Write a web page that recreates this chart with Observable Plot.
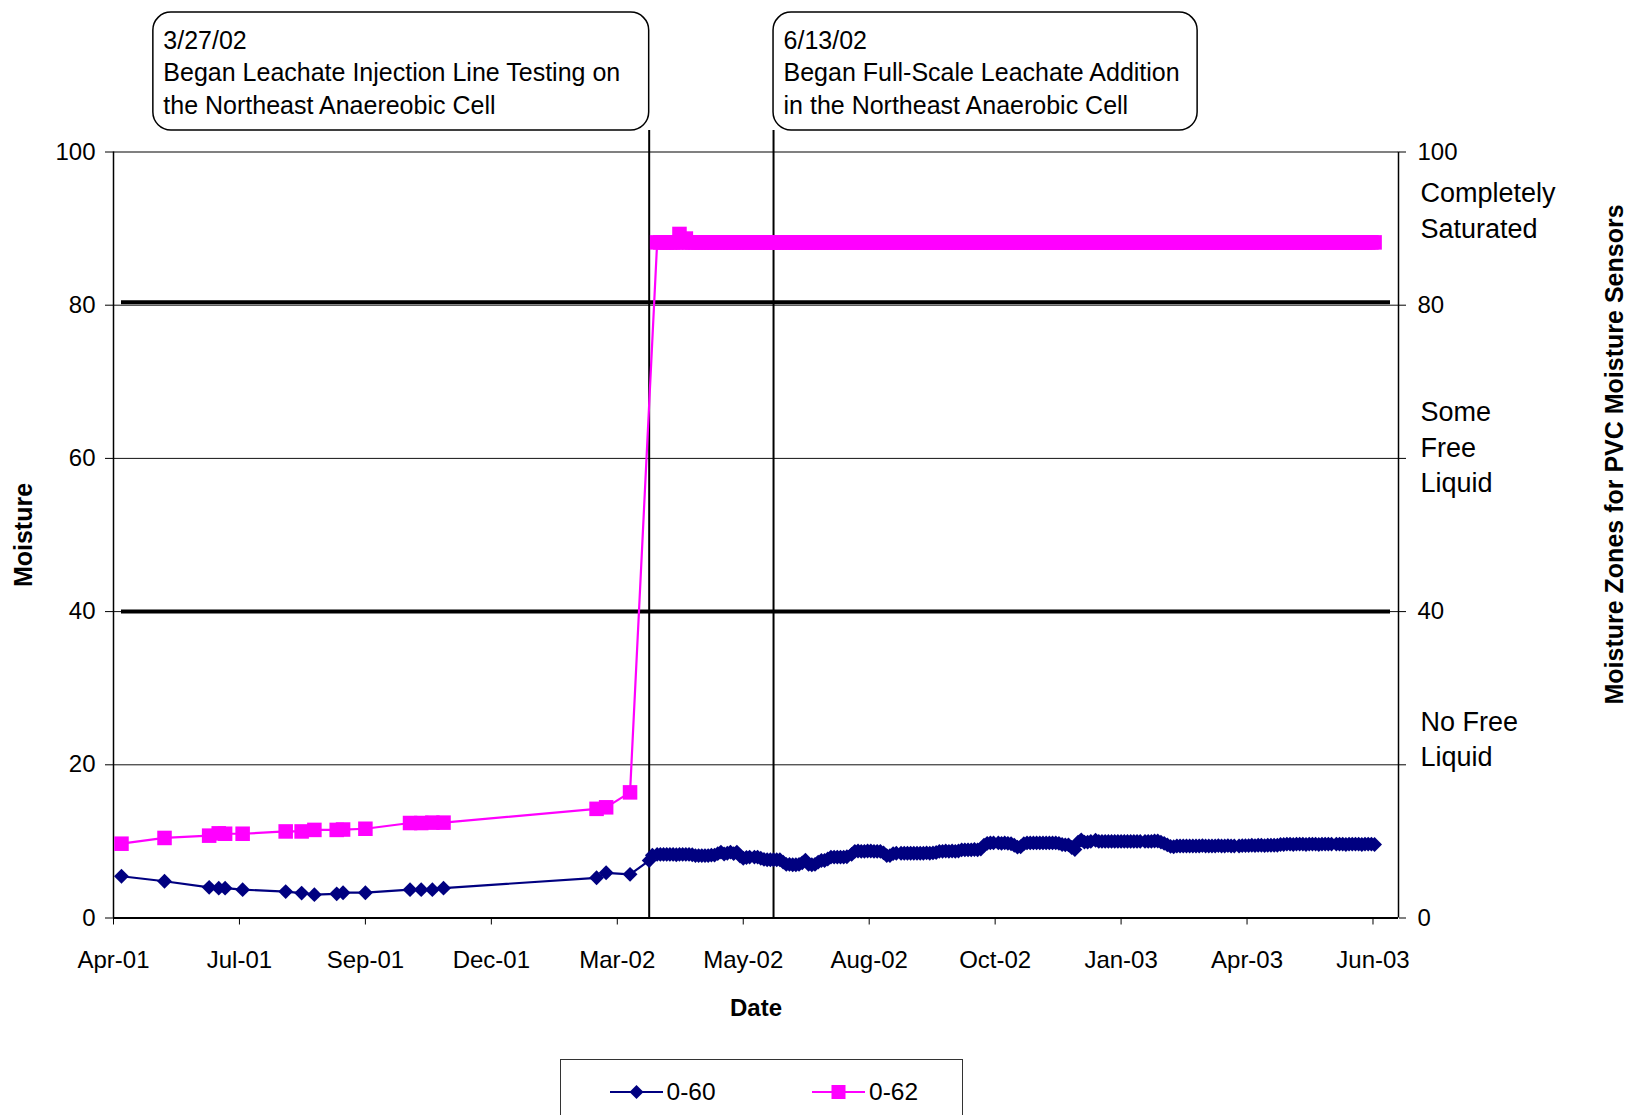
<!DOCTYPE html>
<html><head><meta charset="utf-8">
<script src="https://cdn.jsdelivr.net/npm/d3@7"></script>
<script src="https://cdn.jsdelivr.net/npm/@observablehq/plot@0.6"></script>
<style>
body{margin:0;background:#fff;font-family:"Liberation Sans",Arial,sans-serif;}
#wrap{position:relative;width:1631px;height:1115px;overflow:hidden;background:#fff;}
#chart svg{display:block;}
#legend{position:absolute;left:560px;top:1059px;width:403px;height:80px;border:1.3px solid #333;box-sizing:border-box;background:#fff;}
.li{position:absolute;top:0;height:64px;display:flex;align-items:center;font-size:24.5px;color:#000;}
</style></head><body><div id="wrap"><div id="chart"></div><div id="legend"></div></div>
<script>
// ---------- data ----------
const seriesNames = ["0-60", "0-62"];
const seriesColors = ["#000080", "#FF00FF"];

// early, sparse readings (2001 – Mar 2002)
const earlyDates = ["2001-04-30","2001-05-27","2001-06-24","2001-06-30","2001-07-04","2001-07-15",
  "2001-08-11","2001-08-21","2001-08-29","2001-09-12","2001-09-16","2001-09-30",
  "2001-10-28","2001-11-04","2001-11-11","2001-11-18","2002-02-22","2002-02-28","2002-03-15"];
const early060 = [5.45,4.8,4.0,3.9,3.9,3.7,3.45,3.25,3.05,3.15,3.3,3.3,3.7,3.7,3.7,3.9,5.25,5.9,5.7];
const early062 = [9.7,10.45,10.75,11.05,11.0,11.0,11.3,11.3,11.5,11.5,11.55,11.65,12.4,12.4,12.45,12.45,14.25,14.45,16.4];

// dense readings (Mar 2002 – Jun 2003)
const denseDates = [
  "2002-03-27","2002-03-29",
  "2002-04-01","2002-04-03","2002-04-05","2002-04-07","2002-04-09","2002-04-11","2002-04-13","2002-04-15","2002-04-17","2002-04-19","2002-04-21","2002-04-23","2002-04-25","2002-04-27","2002-04-29",
  "2002-05-01","2002-05-03","2002-05-05","2002-05-07","2002-05-09","2002-05-11","2002-05-13","2002-05-15","2002-05-17","2002-05-19","2002-05-21","2002-05-23","2002-05-25","2002-05-27","2002-05-29",
  "2002-06-01","2002-06-03","2002-06-05","2002-06-07","2002-06-09","2002-06-11","2002-06-13","2002-06-15","2002-06-17","2002-06-19","2002-06-21","2002-06-23","2002-06-25","2002-06-27","2002-06-29",
  "2002-07-01","2002-07-03","2002-07-05","2002-07-07","2002-07-09","2002-07-11","2002-07-13","2002-07-15","2002-07-17","2002-07-19","2002-07-21","2002-07-23","2002-07-25","2002-07-27","2002-07-29",
  "2002-08-01","2002-08-03","2002-08-05","2002-08-07","2002-08-09","2002-08-11","2002-08-13","2002-08-15","2002-08-17","2002-08-19","2002-08-21","2002-08-23","2002-08-25","2002-08-27","2002-08-29",
  "2002-09-01","2002-09-03","2002-09-05","2002-09-07","2002-09-09","2002-09-11","2002-09-13","2002-09-15","2002-09-17","2002-09-19","2002-09-21","2002-09-23","2002-09-25","2002-09-27","2002-09-29",
  "2002-10-01","2002-10-03","2002-10-05","2002-10-07","2002-10-09","2002-10-11","2002-10-13","2002-10-15","2002-10-17","2002-10-19","2002-10-21","2002-10-23","2002-10-25","2002-10-27","2002-10-29",
  "2002-11-01","2002-11-03","2002-11-05","2002-11-07","2002-11-09","2002-11-11","2002-11-13","2002-11-15","2002-11-17","2002-11-19","2002-11-21","2002-11-23","2002-11-25","2002-11-27","2002-11-29",
  "2002-12-01","2002-12-03","2002-12-05","2002-12-07","2002-12-09","2002-12-11","2002-12-13","2002-12-15","2002-12-17","2002-12-19","2002-12-21","2002-12-23","2002-12-25","2002-12-27","2002-12-29",
  "2003-01-01","2003-01-03","2003-01-05","2003-01-07","2003-01-09","2003-01-11","2003-01-13","2003-01-15","2003-01-17","2003-01-19","2003-01-21","2003-01-23","2003-01-25","2003-01-27","2003-01-29",
  "2003-02-01","2003-02-03","2003-02-05","2003-02-07","2003-02-09","2003-02-11","2003-02-13","2003-02-15","2003-02-17","2003-02-19","2003-02-21","2003-02-23","2003-02-25","2003-02-27",
  "2003-03-01","2003-03-03","2003-03-05","2003-03-07","2003-03-09","2003-03-11","2003-03-13","2003-03-15","2003-03-17","2003-03-19","2003-03-21","2003-03-23","2003-03-25","2003-03-27","2003-03-29",
  "2003-04-01","2003-04-03","2003-04-05","2003-04-07","2003-04-09","2003-04-11","2003-04-13","2003-04-15","2003-04-17","2003-04-19","2003-04-21","2003-04-23","2003-04-25","2003-04-27","2003-04-29",
  "2003-05-01","2003-05-03","2003-05-05","2003-05-07","2003-05-09","2003-05-11","2003-05-13","2003-05-15","2003-05-17","2003-05-19","2003-05-21","2003-05-23","2003-05-25","2003-05-27","2003-05-29",
  "2003-06-01","2003-06-03","2003-06-05","2003-06-07","2003-06-09","2003-06-11","2003-06-13","2003-06-15","2003-06-17","2003-06-19","2003-06-21","2003-06-23","2003-06-25"];
const dense060 = [
  7.5,8.2,
  8.3,8.3,8.3,8.3,8.3,8.3,8.25,8.3,8.3,8.3,8.3,8.25,8.15,8.15,8.15,
  8.15,8.15,8.2,8.2,8.4,8.6,8.35,8.45,8.6,8.4,8.6,8.1,7.8,7.9,7.95,
  7.95,7.95,7.8,7.65,7.6,7.6,7.6,7.6,7.6,7.3,7.0,7.0,6.95,6.95,7.0,
  7.2,7.55,7.0,6.95,7.0,7.3,7.5,7.5,7.7,7.95,7.95,7.95,7.95,7.95,8.0,
  8.3,8.7,8.75,8.7,8.7,8.75,8.75,8.7,8.7,8.7,8.5,8.15,8.15,8.4,8.45,
  8.45,8.45,8.45,8.45,8.45,8.45,8.45,8.45,8.5,8.45,8.5,8.55,8.7,8.7,8.75,
  8.7,8.75,8.7,8.75,8.9,8.9,8.9,8.9,8.95,8.9,9.0,9.5,9.75,9.8,9.8,
  9.8,9.75,9.8,9.75,9.7,9.5,9.25,9.3,9.7,9.8,9.8,9.8,9.8,9.8,9.8,
  9.8,9.8,9.8,9.8,9.75,9.6,9.55,9.55,9.2,8.95,9.9,10.2,9.9,9.9,10.0,
  10.15,10.0,10.0,10.0,10.0,10.0,10.0,10.0,10.0,10.0,10.0,10.0,10.0,10.0,10.0,
  10.0,10.0,10.0,10.05,10.05,9.9,9.75,9.55,9.35,9.3,9.4,9.4,9.4,9.4,
  9.4,9.4,9.4,9.4,9.45,9.4,9.4,9.4,9.4,9.45,9.4,9.4,9.45,9.4,9.4,
  9.4,9.45,9.45,9.45,9.5,9.45,9.5,9.5,9.45,9.5,9.5,9.5,9.5,9.6,9.6,
  9.65,9.65,9.6,9.65,9.65,9.65,9.6,9.65,9.65,9.65,9.6,9.65,9.65,9.65,9.65,
  9.65,9.65,9.65,9.6,9.65,9.65,9.65,9.65,9.6,9.65,9.65,9.65,9.6];
const dense062 = [
  null,null,
  88.2,88.2,88.2,88.2,88.2,88.2,88.2,89.3,88.2,88.7,88.2,88.2,88.2,88.2,88.2,
  88.2,88.2,88.2,88.2,88.2,88.2,88.2,88.2,88.2,88.2,88.2,88.2,88.2,88.2,88.2,
  88.2,88.2,88.2,88.2,88.2,88.2,88.2,88.2,88.2,88.2,88.2,88.2,88.2,88.2,88.2,
  88.2,88.2,88.2,88.2,88.2,88.2,88.2,88.2,88.2,88.2,88.2,88.2,88.2,88.2,88.2,
  88.2,88.2,88.2,88.2,88.2,88.2,88.2,88.2,88.2,88.2,88.2,88.2,88.2,88.2,88.2,
  88.2,88.2,88.2,88.2,88.2,88.2,88.2,88.2,88.2,88.2,88.2,88.2,88.2,88.2,88.2,
  88.2,88.2,88.2,88.2,88.2,88.2,88.2,88.2,88.2,88.2,88.2,88.2,88.2,88.2,88.2,
  88.2,88.2,88.2,88.2,88.2,88.2,88.2,88.2,88.2,88.2,88.2,88.2,88.2,88.2,88.2,
  88.2,88.2,88.2,88.2,88.2,88.2,88.2,88.2,88.2,88.2,88.2,88.2,88.2,88.2,88.2,
  88.2,88.2,88.2,88.2,88.2,88.2,88.2,88.2,88.2,88.2,88.2,88.2,88.2,88.2,88.2,
  88.2,88.2,88.2,88.2,88.2,88.2,88.2,88.2,88.2,88.2,88.2,88.2,88.2,88.2,
  88.2,88.2,88.2,88.2,88.2,88.2,88.2,88.2,88.2,88.2,88.2,88.2,88.2,88.2,88.2,
  88.2,88.2,88.2,88.2,88.2,88.2,88.2,88.2,88.2,88.2,88.2,88.2,88.2,88.2,88.2,
  88.2,88.2,88.2,88.2,88.2,88.2,88.2,88.2,88.2,88.2,88.2,88.2,88.2,88.2,88.2,
  88.2,88.2,88.2,88.2,88.2,88.2,88.2,88.2,88.2,88.2,88.2,88.2,88.2];

// axes
const xStart = "2001-04-25", xEnd = "2003-07-10";
const xTickDates = ["2001-04-25","2001-07-13","2001-09-30","2001-12-18","2002-03-07","2002-05-25",
  "2002-08-12","2002-10-30","2003-01-17","2003-04-06","2003-06-24"];
const xTickLabels = ["Apr-01","Jul-01","Sep-01","Dec-01","Mar-02","May-02","Aug-02","Oct-02","Jan-03","Apr-03","Jun-03"];
const yTicks = [0,20,40,60,80,100];
const rightTickLabels = ["0","","40","","80","100"];

// moisture zones (right axis)
const zoneBounds = [40, 80.4];
const zoneLabels = ["Completely\nSaturated", "Some\nFree\nLiquid", "No Free\nLiquid"];
const zoneRanges = [[80,100],[40,80],[0,40]];

// annotations
const annotationDates = ["2002-03-27", "2002-06-13"];
const annotationTexts = [
  "3/27/02\nBegan Leachate Injection Line Testing on\nthe Northeast Anaereobic Cell",
  "6/13/02\nBegan Full-Scale Leachate Addition\nin the Northeast Anaerobic Cell"];

const titles = {y: "Moisture", y2: "Moisture Zones for PVC Moisture Sensors", x: "Date"};

// ---------- build ----------
const parse = d3.utcParse("%Y-%m-%d");
const records = [];
const earlyVals = [early060, early062], denseVals = [dense060, dense062];
seriesNames.forEach((name, s) => {
  earlyDates.forEach((d, i) => { if (earlyVals[s][i] != null) records.push({series: name, date: parse(d), value: earlyVals[s][i]}); });
  denseDates.forEach((d, i) => { if (denseVals[s][i] != null) records.push({series: name, date: parse(d), value: denseVals[s][i]}); });
});
const xDomain = [parse(xStart), parse(xEnd)];
const xTicks = xTickDates.map(parse);
const xLabelByTime = new Map(xTicks.map((d, i) => [+d, xTickLabels[i]]));
const rightLabelByValue = new Map(yTicks.map((v, i) => [v, rightTickLabels[i]]));
const zones = zoneLabels.map((label, i) => ({label, lo: zoneRanges[i][0], hi: zoneRanges[i][1]}));
const zoneLift = [2.6, 1.7, 3.6];
const annotations = annotationDates.map((d, i) => ({date: parse(d), text: annotationTexts[i]}));
const boxX1 = (d, i) => i === 0 ? d3.utcDay.offset(d.date, -311) : d.date;
const boxX2 = (d, i) => i === 0 ? d.date : d3.utcDay.offset(d.date, 266);

const font = '"Liberation Sans", Arial, sans-serif';
const chart = Plot.plot({
  width: 1631, height: 1050,
  marginLeft: 113, marginRight: 233, marginTop: 151.5, marginBottom: 132.5,
  style: {fontFamily: font, fontSize: "24px", background: "#fff", color: "#000", overflow: "visible"},
  x: {type: "utc", domain: xDomain},
  y: {domain: [0, 100]},
  color: {domain: seriesNames, range: seriesColors},
  marks: [
    Plot.ruleY(yTicks.filter(v => v > 0 && v < 100), {stroke: "#111", strokeWidth: 1}),
    Plot.ruleY([100], {stroke: "#808080", strokeWidth: 2}),
    Plot.ruleY(zoneBounds, {stroke: "#000", strokeWidth: 4, insetLeft: 8, insetRight: 8}),
    Plot.ruleX(xDomain, {y1: 0, y2: 100, stroke: "#000", strokeWidth: 1.5}),
    Plot.ruleY([0], {stroke: "#000", strokeWidth: 1.8}),
    Plot.ruleX(annotations, {x: "date", y1: 0, y2: 102.8, stroke: "#000", strokeWidth: 2}),
    Plot.line(records, {x: "date", y: "value", z: "series", stroke: "series", strokeWidth: 2.2}),
    Plot.dot(records.filter(d => d.series === seriesNames[0]), {x: "date", y: "value", symbol: "diamond2", r: 6.7, fill: seriesColors[0], stroke: "none"}),
    Plot.dot(records.filter(d => d.series === seriesNames[1]), {x: "date", y: "value", symbol: "square", r: 8.2, fill: seriesColors[1], stroke: "none"}),
    Plot.axisX({ticks: xTicks, tickFormat: d => xLabelByTime.get(+d), tickSize: 7, tickPadding: 25.5, label: null, fontSize: 24}),
    Plot.axisY({anchor: "left", ticks: yTicks, tickSize: 8, tickPadding: 10, label: null, fontSize: 24}),
    Plot.axisY({anchor: "right", ticks: yTicks, tickFormat: v => rightLabelByValue.get(v), tickSize: 7, tickPadding: 12, label: null, fontSize: 24}),
    Plot.text(zones, {y: d => (d.lo + d.hi) / 2 + zoneLift[zones.indexOf(d)], text: "label", frameAnchor: "right", dx: 22, textAnchor: "start", lineAnchor: "middle", lineHeight: 1.31, fontSize: 27}),
    Plot.rect(annotations, {x1: boxX1, x2: boxX2, y1: 102.8, y2: 118.2, rx: 18, fill: "#fff", stroke: "#000", strokeWidth: 1.5}),
    Plot.text(annotations, {x: boxX1, y: 110.6, text: "text", textAnchor: "start", lineAnchor: "middle", dx: 10, fontSize: 25, lineHeight: 1.31}),
    Plot.text([titles.y], {frameAnchor: "left", dx: -90, rotate: -90, textAnchor: "middle", fontWeight: "bold", fontSize: 25}),
    Plot.text([titles.y2], {frameAnchor: "right", dx: 216, dy: -80.5, rotate: -90, textAnchor: "middle", fontWeight: "bold", fontSize: 25}),
    Plot.text([titles.x], {frameAnchor: "bottom", dy: 90, lineAnchor: "middle", fontWeight: "bold", fontSize: 24})
  ]
});
document.getElementById("chart").appendChild(chart);

// ---------- legend ----------
const legend = document.getElementById("legend");
const swatch = (i) => {
  const marker = i === 0
    ? `<path d="M26.5,25 L33.5,32 L26.5,39 L19.5,32 Z" fill="${seriesColors[0]}"/>`
    : `<rect x="19.5" y="25" width="14" height="14" fill="${seriesColors[1]}"/>`;
  return `<svg width="53" height="64" style="display:block"><line x1="0" x2="53" y1="32" y2="32" stroke="${seriesColors[i]}" stroke-width="2"/>${marker}</svg>`;
};
const legendLeft = [48.5, 251];
seriesNames.forEach((name, i) => {
  const el = document.createElement("div");
  el.className = "li";
  el.style.left = legendLeft[i] + "px";
  el.innerHTML = swatch(i) + `<span style="margin-left:4px">${name}</span>`;
  legend.appendChild(el);
});
</script></body></html>
